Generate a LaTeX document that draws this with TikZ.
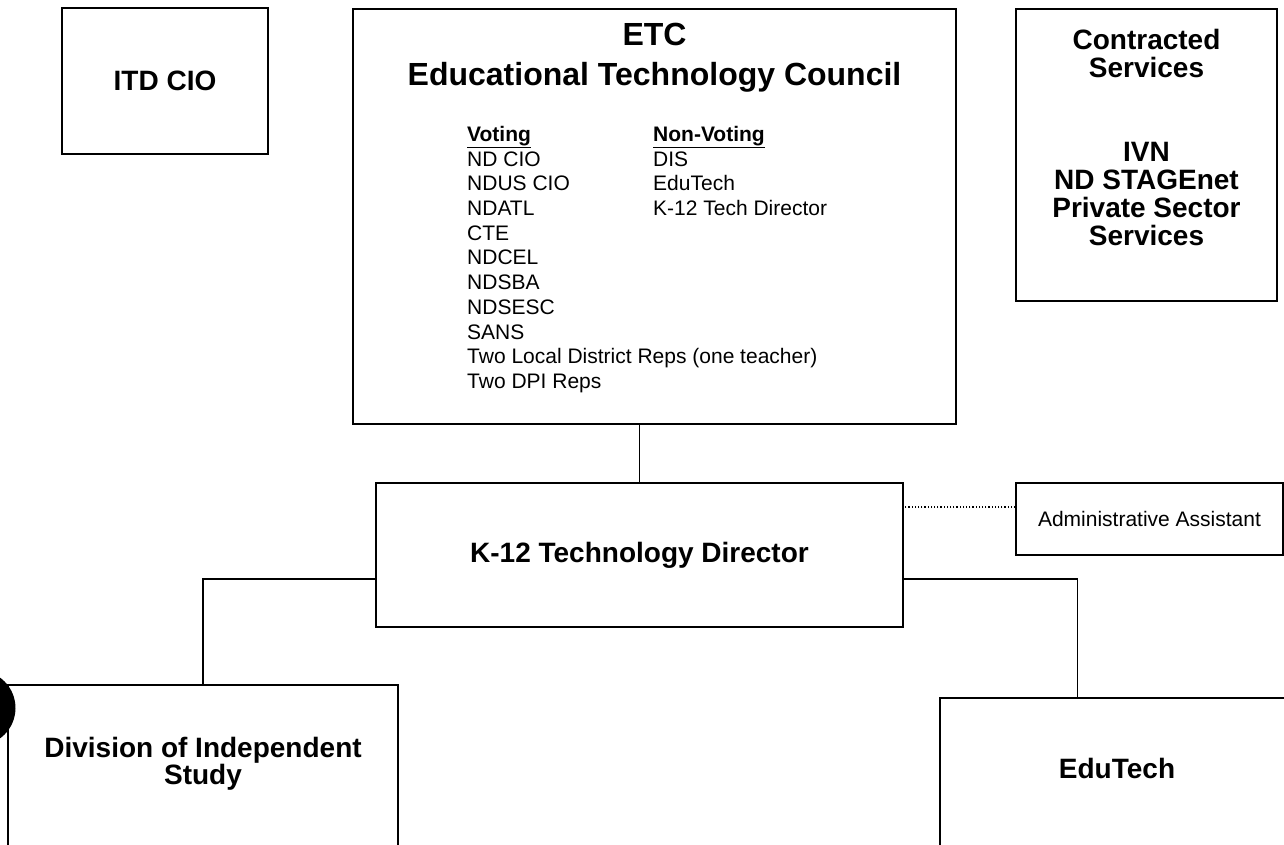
\documentclass[tikz,border=0pt]{standalone}
\usepackage{fontspec}
\setmainfont{Liberation Sans}
\usetikzlibrary{calc}

\begin{document}
\begin{tikzpicture}[x=1pt,y=-1pt,
        box/.style={draw,line width=1.6pt,inner sep=0pt},
        head/.style={font=\fontsize{28}{28}\selectfont\bfseries,align=center,inner sep=0pt},
        small/.style={font=\fontsize{21}{24.7}\selectfont,align=left,inner sep=0pt},
        link/.style={line width=1.2pt}]
        \useasboundingbox (0,0) rectangle (1284,845);
        \clip (0,0) rectangle (1284,845);
        \fill[white] (0,0) rectangle (1284,845);
        % boxes
        \node[box,head,minimum width=206pt,minimum height=146pt] (itd) at (165,81) {ITD CIO};
        \node[box,minimum width=603pt,minimum height=415pt] (etc) at (654.5,216.5) {};
        \node[box,minimum width=261pt,minimum height=292pt] (csv) at (1146.5,155) {};
        \node[box,head,minimum width=527pt,minimum height=144pt] (k12) at (639.5,555) {K-12 Technology Director};
        \node[box,small,align=center,minimum width=267pt,minimum height=72pt] (adm) at (1149.5,519) {Administrative Assistant};
        \node[box,minimum width=390pt,minimum height=185pt] (dis) at (203,777.5) {};
        \node[box,minimum width=360pt,minimum height=172pt] (edu) at (1120,784) {};
        % texts
        \node[head,font=\fontsize{32}{40}\selectfont\bfseries,anchor=north] (etcname) at (654.5,22.5)
          {ETC\\Educational Technology Council};
        \node[small,anchor=north west] (voting) at (467,126)
          {\textbf{\underline{Voting}}\\ND CIO\\NDUS CIO\\NDATL\\CTE\\NDCEL\\NDSBA\\NDSESC\\SANS\\
           Two Local District Reps (one teacher)\\Two DPI Reps};
        \node[small,anchor=north west] (nonvoting) at (653,126)
          {\textbf{\underline{Non-Voting}}\\DIS\\EduTech\\K-12 Tech Director};
        \node[head,anchor=north] (csvname) at (1146.5,29)
          {Contracted\\Services\\[56pt]IVN\\ND STAGEnet\\Private Sector\\Services};
        \node[head,font=\fontsize{28}{27}\selectfont\bfseries,anchor=north] (disname) at (203,737)
          {Division of Independent\\Study};
        \node[head] (eduname) at (1117,768) {EduTech};
        % punched hole
        \fill (-22,708) circle (37.5);
        % connectors
        \draw[link] (k12.north) -- (k12.north |- etc.south);
        \draw[link] ([yshift=-24pt]k12.west) -| (dis.north);
        \draw[link] ([yshift=-24pt]k12.east) -| ([xshift=138pt]edu.north west);
        \draw[link,dotted] ([yshift=12pt]adm.west) -- ([yshift=12pt]adm.west -| k12.east);
\end{tikzpicture}
\end{document}
